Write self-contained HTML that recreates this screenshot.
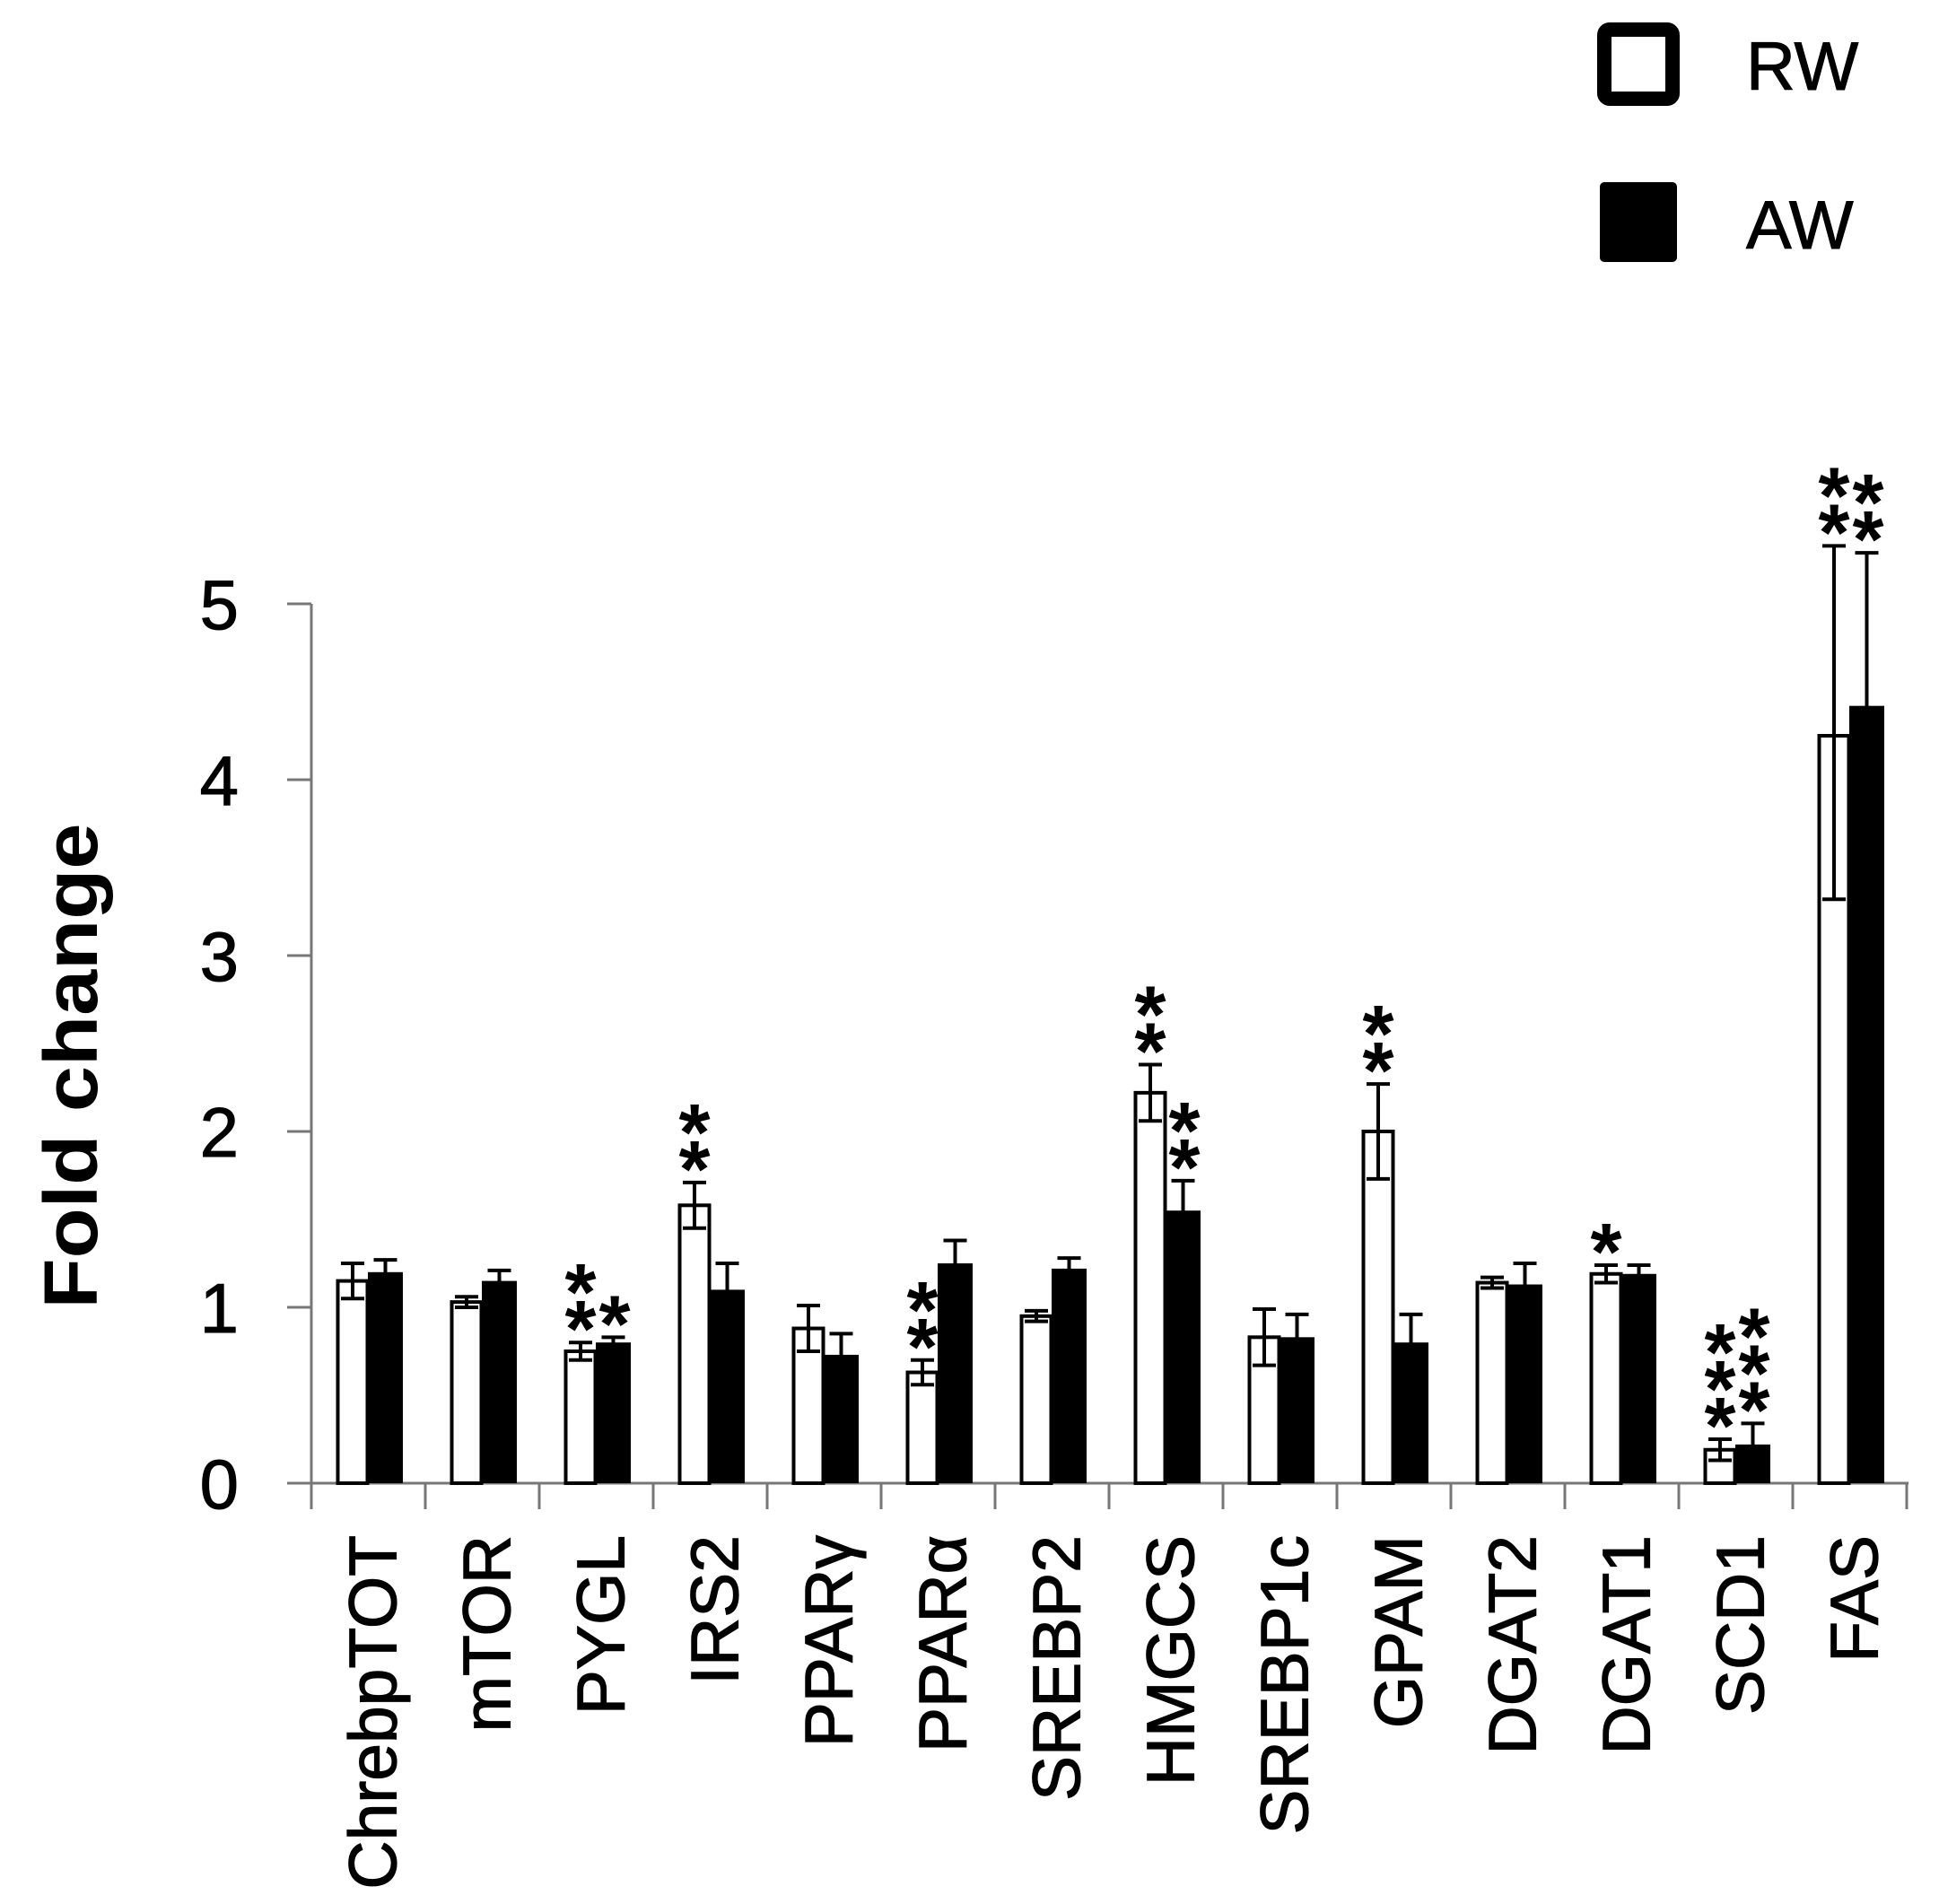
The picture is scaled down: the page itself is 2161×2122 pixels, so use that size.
<!DOCTYPE html>
<html><head><meta charset="utf-8"><style>
html,body{margin:0;padding:0;background:#fff;}
svg{display:block;}
</style></head><body>
<svg width="2161" height="2122" viewBox="0 0 2161 2122" xmlns="http://www.w3.org/2000/svg" font-family="Liberation Sans, sans-serif">
<rect width="2161" height="2122" fill="#fff"/>
<rect x="1788" y="33" width="76" height="77" rx="6" fill="#fff" stroke="#000" stroke-width="16"/>
<rect x="1783" y="203" width="86" height="89" rx="5" fill="#000"/>
<text x="1946" y="100" font-size="76" stroke="#000" stroke-width="1">RW</text>
<text x="1946" y="277" font-size="76" stroke="#000" stroke-width="1">AW</text>
<text transform="translate(108,1188) rotate(-90)" text-anchor="middle" font-size="84" font-weight="bold" textLength="541" lengthAdjust="spacingAndGlyphs">Fold change</text>
<g font-size="78" text-anchor="end" stroke="#000" stroke-width="1">
<text x="266" y="1681">0</text>
<text x="266" y="1485">1</text>
<text x="266" y="1289">2</text>
<text x="266" y="1093">3</text>
<text x="266" y="897">4</text>
<text x="266" y="701">5</text>
</g>
<g id="chart"></g>
</svg>
<script>
(function(){
var ns="http://www.w3.org/2000/svg",g=document.getElementById("chart");
function el(t,a,txt){var e=document.createElementNS(ns,t);for(var k in a)e.setAttribute(k,a[k]);if(txt)e.textContent=txt;g.appendChild(e);return e;}
var y0=1653,U=196,X0=347,W=127;
function Y(v){return y0-v*U;}
var d=[
["ChrebpTOT",1.15,0.10,1.20,0.07,0,0],
["mTOR",1.03,0.03,1.15,0.06,0,0],
["PYGL",0.75,0.05,0.80,0.03,2,1],
["IRS2",1.58,0.13,1.10,0.15,2,0],
["PPAR\u03b3",0.88,0.13,0.73,0.12,0,0],
["PPAR\u03b1",0.63,0.07,1.25,0.13,2,0],
["SREBP2",0.95,0.03,1.22,0.06,0,0],
["HMGCS",2.22,0.16,1.55,0.17,2,2],
["SREBP1c",0.83,0.16,0.83,0.13,0,0],
["GPAM",2.00,0.27,0.80,0.16,2,0],
["DGAT2",1.14,0.03,1.13,0.12,0,0],
["DGAT1",1.19,0.05,1.19,0.05,1,0],
["SCD1",0.19,0.06,0.22,0.12,3,3],
["FAS",4.25,1.08,4.42,0.87,2,2]];
el("line",{x1:347,y1:673,x2:347,y2:1682,stroke:"#777","stroke-width":3});
el("line",{x1:320,y1:y0,x2:2127,y2:y0,stroke:"#777","stroke-width":3});
for(var i=0;i<=5;i++)el("line",{x1:320,y1:Y(i),x2:347,y2:Y(i),stroke:"#777","stroke-width":3});
for(var i=0;i<=14;i++)el("line",{x1:X0+i*W,y1:y0,x2:X0+i*W,y2:1682,stroke:"#777","stroke-width":3});
function err(cx,v,e,el2,c){var t=Y(v+e),b=Y(v-el2);
 el("line",{x1:cx,y1:t,x2:cx,y2:b,stroke:c,"stroke-width":4});
 el("line",{x1:cx-13,y1:t,x2:cx+13,y2:t,stroke:c,"stroke-width":4});
 el("line",{x1:cx-13,y1:b,x2:cx+13,y2:b,stroke:c,"stroke-width":4});}
function stars(cx,v,e,n){var c=Y(v+e)-34;for(var k=0;k<n;k++){el("text",{x:cx,y:c-k*41+50,"font-size":90,"font-weight":"bold","text-anchor":"middle"},"*");}}
d.forEach(function(r,i){
 var s=X0+i*W;
 var wx=s+29.5, bx=s+63;
 el("rect",{x:wx,y:Y(r[1]),width:33,height:y0-Y(r[1]),fill:"#fff",stroke:"#000","stroke-width":4});
 el("rect",{x:bx,y:Y(r[3]),width:39,height:y0-Y(r[3]),fill:"#000"});
 err(s+46,r[1],r[2],(i==13?0.93:r[2]),"#000");
 err(s+82.5,r[3],r[4],r[4],"#000");
 if(r[5])stars(s+46,r[1],r[2],r[5]);
 if(r[6])stars(s+84,r[3],r[4],r[6]);
 el("text",{transform:"translate("+(s+63.5+31)+",1711) rotate(-90)","text-anchor":"end","font-size":75,stroke:"#000","stroke-width":1.2},r[0]);
});
})();
</script>
</body></html>
